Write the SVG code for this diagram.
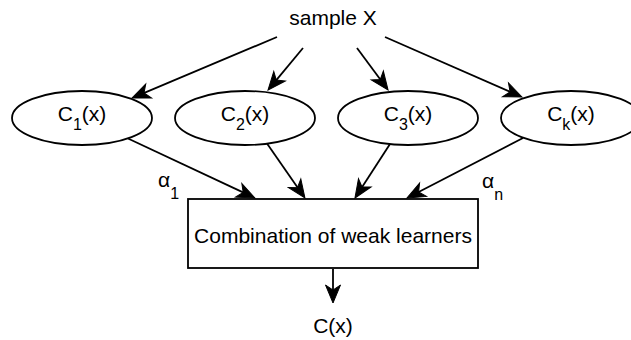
<svg xmlns="http://www.w3.org/2000/svg" width="631" height="340" viewBox="0 0 631 340">
<style>
text{font-family:"Liberation Sans",Arial,sans-serif;font-size:21px;fill:#000}
.sub{font-size:16px}
.shape{fill:#fff;stroke:#000;stroke-width:1.8}
.edge{fill:none;stroke:#000;stroke-width:1.8;marker-end:url(#arr)}
</style>
<defs>
<marker id="arr" markerUnits="userSpaceOnUse" markerWidth="22" markerHeight="18" viewBox="-20 -9 22 18" refX="-12" refY="0" orient="auto">
<path d="M0,0 L-18,-7.5 L-13,0 L-18,7.5 Z" fill="#000" stroke="#000" stroke-width="1" stroke-linejoin="miter"/>
</marker>
</defs>
<rect width="631" height="340" fill="#fff"/>
<g id="edges">
<line class="edge" x1="277" y1="37" x2="143.1" y2="93.3"/>
<line class="edge" x1="303" y1="48" x2="275.7" y2="80.8"/>
<line class="edge" x1="357" y1="48" x2="380.9" y2="80.3"/>
<line class="edge" x1="385" y1="37" x2="511" y2="92.2"/>
<line class="edge" x1="128" y1="138.5" x2="244.1" y2="192.9"/>
<line class="edge" x1="267" y1="143.6" x2="298.1" y2="188.2"/>
<line class="edge" x1="390" y1="144" x2="361.5" y2="187.9"/>
<line class="edge" x1="523" y1="138" x2="417.7" y2="192.5"/>
<line class="edge" x1="333" y1="269" x2="333" y2="291"/>
</g>
<g id="sample">
<text x="333" y="25" text-anchor="middle">sample X</text>
</g>
<g id="c1">
<ellipse class="shape" cx="82" cy="118" rx="70" ry="27"/>
<text x="82" y="121" text-anchor="middle">C<tspan class="sub" dy="9">1</tspan><tspan dy="-9">(x)</tspan></text>
</g>
<g id="c2">
<ellipse class="shape" cx="245" cy="118" rx="70" ry="27"/>
<text x="245" y="121" text-anchor="middle">C<tspan class="sub" dy="9">2</tspan><tspan dy="-9">(x)</tspan></text>
</g>
<g id="c3">
<ellipse class="shape" cx="408" cy="118" rx="70" ry="27"/>
<text x="408" y="121" text-anchor="middle">C<tspan class="sub" dy="9">3</tspan><tspan dy="-9">(x)</tspan></text>
</g>
<g id="ck">
<ellipse class="shape" cx="571" cy="118" rx="70" ry="27"/>
<text x="571" y="121" text-anchor="middle">C<tspan class="sub" dy="9">k</tspan><tspan dy="-9">(x)</tspan></text>
</g>
<g id="combo">
<rect class="shape" x="188" y="199" width="290" height="69"/>
<text x="333" y="243" text-anchor="middle">Combination of weak learners</text>
</g>
<g id="alpha1">
<text x="158" y="187">α<tspan class="sub" dy="12">1</tspan></text>
</g>
<g id="alphan">
<text x="482" y="188">α<tspan class="sub" dy="12">n</tspan></text>
</g>
<g id="output">
<text x="333" y="333" text-anchor="middle">C(x)</text>
</g>
</svg>
